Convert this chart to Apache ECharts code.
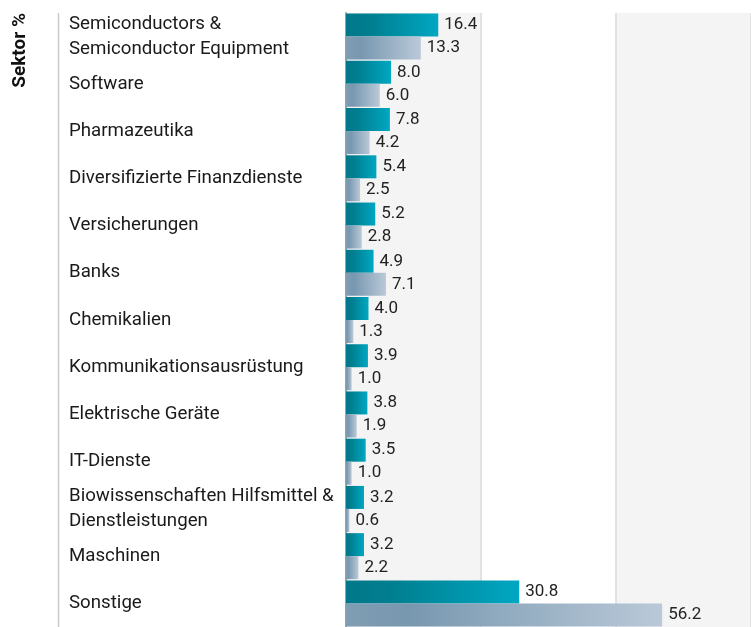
<!DOCTYPE html>
<html>
<head>
<meta charset="utf-8">
<script src="https://cdn.jsdelivr.net/npm/echarts@6/dist/echarts.min.js"></script>
<style>
  html, body { margin: 0; padding: 0; background: #fff; }
  #chart { width: 751px; height: 627px; }
</style>
</head>
<body>
<div id="chart"></div>
<script>
const categories = [
  'Semiconductors &\nSemiconductor Equipment',
  'Software',
  'Pharmazeutika',
  'Diversifizierte Finanzdienste',
  'Versicherungen',
  'Banks',
  'Chemikalien',
  'Kommunikationsausrüstung',
  'Elektrische Geräte',
  'IT-Dienste',
  'Biowissenschaften Hilfsmittel &\nDienstleistungen',
  'Maschinen',
  'Sonstige'
]
const fundValues = [16.4, 8.0, 7.8, 5.4, 5.2, 4.9, 4.0, 3.9, 3.8, 3.5, 3.2, 3.2, 30.8]
const benchmarkValues = [13.3, 6.0, 4.2, 2.5, 2.8, 7.1, 1.3, 1.0, 1.9, 1.0, 0.6, 2.2, 56.2]
const xTicks = [0, 24, 48, 72]

const font = 'Roboto, "Noto Sans", sans-serif'
const chart = echarts.init(document.getElementById('chart'))

function grad(stops) {
  return new echarts.graphic.LinearGradient(0, 0, 1, 0, stops)
}

const valueLabel = {
  show: true,
  position: 'right',
  distance: 6,
  color: '#222',
  fontFamily: font,
  fontSize: 17,
  padding: [4, 0, 0, 0],
  formatter: p => p.value.toFixed(1)
}

chart.setOption({
  animation: false,
  backgroundColor: '#fff',
  grid: { left: 346, right: 0, top: 13, bottom: -6 },
  xAxis: {
    type: 'value',
    min: xTicks[0],
    max: xTicks[xTicks.length - 1],
    interval: 24,
    axisLabel: { show: false },
    axisTick: { show: false },
    axisLine: { show: false },
    splitLine: { show: true, lineStyle: { color: '#e2e2e2', width: 2 } },
    splitArea: { show: true, areaStyle: { color: ['#f4f4f4', '#ffffff'] } }
  },
  yAxis: {
    type: 'category',
    inverse: true,
    data: categories,
    axisTick: { show: false },
    axisLine: { show: true, lineStyle: { color: '#a0a0a0', width: 2 } },
    axisLabel: {
      align: 'left',
      margin: 277,
      color: '#1a1a1a',
      fontFamily: font,
      fontSize: 18.7,
      lineHeight: 25,
      padding: [8, 0, 0, 0]
    }
  },
  series: [
    {
      name: 'Fonds',
      type: 'bar',
      data: fundValues,
      barWidth: 23,
      barGap: '0%',
      itemStyle: { color: grad([
        { offset: 0, color: '#00788a' },
        { offset: 0.25, color: '#007e8f' },
        { offset: 1, color: '#00a7c2' }
      ]) },
      label: valueLabel
    },
    {
      name: 'Benchmark',
      type: 'bar',
      data: benchmarkValues,
      barWidth: 23,
      barGap: '0%',
      itemStyle: { color: grad([
        { offset: 0, color: '#7f9db3' },
        { offset: 0.2, color: '#7898b0' },
        { offset: 1, color: '#bac9d8' }
      ]) },
      label: valueLabel
    }
  ],
  graphic: [
    {
      type: 'line',
      shape: { x1: 58.5, y1: 13, x2: 58.5, y2: 627 },
      style: { stroke: '#cccccc', lineWidth: 1.5 }
    },
    {
      type: 'text',
      x: 20,
      y: 13,
      rotation: Math.PI / 2,
      style: {
        text: 'Sektor %',
        fontFamily: font,
        fontWeight: 'bold',
        fontSize: 19,
        fill: '#111',
        align: 'right',
        verticalAlign: 'middle'
      }
    }
  ]
})
</script>
</body>
</html>
